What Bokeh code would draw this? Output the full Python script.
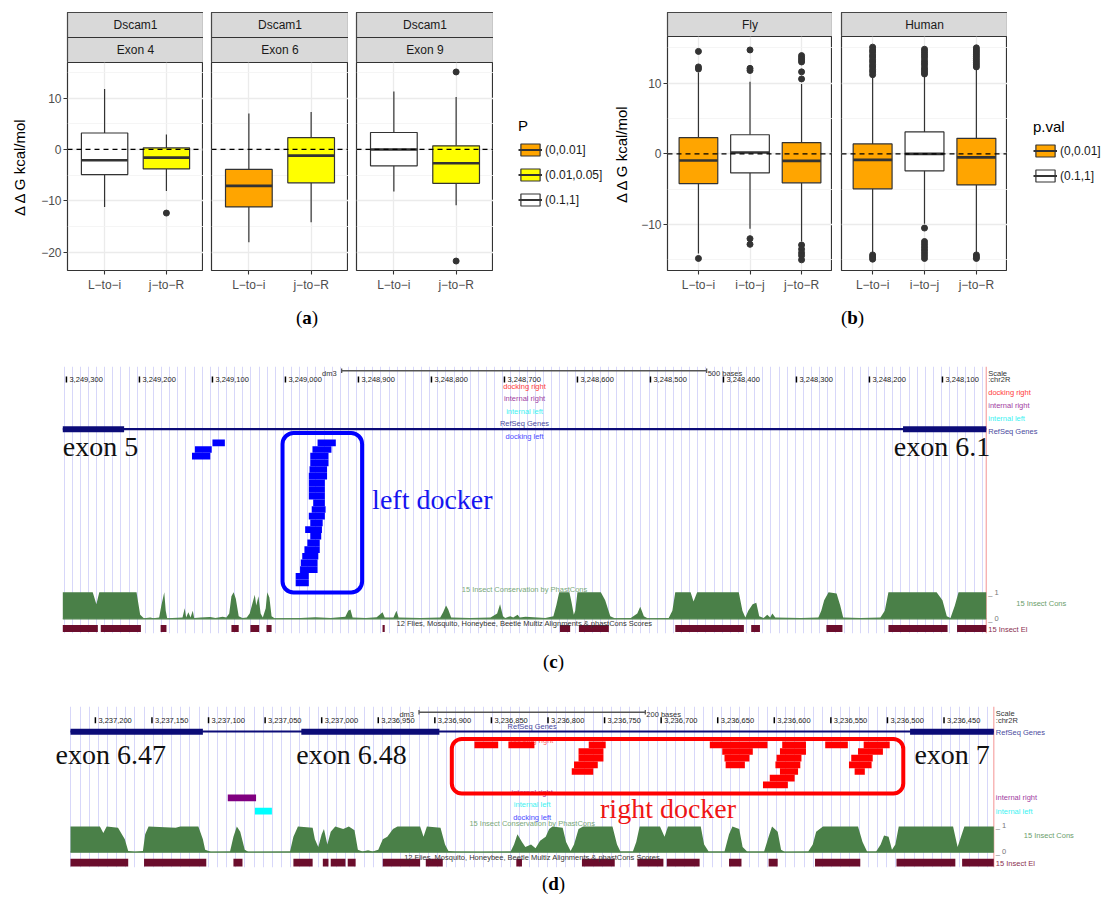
from bokeh.plotting import figure
from bokeh.models import (Range1d, FixedTicker, SingleIntervalTicker, Grid, Legend,
                          LegendItem, ColumnDataSource, Div, Span, LinearAxis, Spacer)
from bokeh.layouts import row, column
from bokeh.core.properties import value
from bokeh.embed import file_html
from bokeh.resources import INLINE

SANS = "Liberation Sans"
SERIF = "Liberation Serif"
INK = "#333333"

# ------------------------------------------------------------------ panel (a) data
a_strip_gene = ["Dscam1", "Dscam1", "Dscam1"]
a_strip_exon = ["Exon 4", "Exon 6", "Exon 9"]
a_cats = ["L−to−i", "j−to−R"]
a_lower = [[-11.2, -8.1], [-18.1, -14.2], [-8.2, -10.9]]
a_q1 = [[-4.9, -3.8], [-11.2, -6.5], [-3.2, -6.6]]
a_med = [[-2.1, -1.6], [-7.1, -1.2], [0.0, -2.7]]
a_q3 = [[3.2, 0.3], [-3.9, 2.3], [3.3, 0.7]]
a_upper = [[11.8, 2.9], [7.0, 7.3], [11.3, 10.2]]
a_pval = [["(0.1,1]", "(0.01,0.05]"], ["(0,0.01]", "(0.01,0.05]"], ["(0.1,1]", "(0.01,0.05]"]]
a_outliers = [[[], [-12.4]], [[], []], [[], [15.1, -21.75]]]
a_yticks = [-20, -10, 0, 10]
a_yminor = [-15, -5, 5, 15]
a_ytick_labels = ["−20", "−10", "0", "10"]
a_legend_title = "P"
a_levels = ["(0,0.01]", "(0.01,0.05]", "(0.1,1]"]

# ------------------------------------------------------------------ panel (b) data
b_strip = ["Fly", "Human"]
b_cats = ["L−to−i", "i−to−j", "j−to−R"]
b_lower = [[-14.1, -10.6, -12.4], [-14.1, -9.9, -14.1]]
b_q1 = [[-4.2, -2.7, -4.1], [-4.95, -2.4, -4.4]]
b_med = [[-0.95, 0.2, -1.0], [-0.85, 0.0, -0.5]]
b_q3 = [[2.3, 2.7, 1.6], [1.4, 3.1, 2.2]]
b_upper = [[11.5, 10.2, 9.9], [10.8, 11.1, 12.0]]
b_pval = [["(0,0.01]", "(0.1,1]", "(0,0.01]"], ["(0,0.01]", "(0.1,1]", "(0,0.01]"]]
b_outliers = [
    [[14.5, 12.3, 12.0, -14.8],
     [14.7, 12.1, 11.8, -12.0, -12.8],
     [13.9, 13.6, 13.3, 13.0, 11.6, 10.6, -12.9, -13.5, -14.0, -14.4, -15.0]],
    [[15.1, 14.7, 14.4, 14.0, 13.7, 13.3, 13.0, 12.6, 12.3, 11.9, 11.6, 11.2, -14.3, -14.6, -14.9],
     [14.8, 14.5, 14.2, 13.9, 13.6, 13.2, 12.9, 12.6, 12.2, 11.9, 11.6, 11.3,
      -10.5, -12.4, -12.8, -13.2, -13.6, -14.0, -14.4, -14.8],
     [15.0, 14.7, 14.4, 14.1, 13.8, 13.5, 13.2, 12.9, 12.6, 12.3, -14.3, -14.6, -14.8]],
]
b_yticks = [-10, 0, 10]
b_yminor = [-15, -5, 5, 15]
b_ytick_labels = ["−10", "0", "10"]
b_legend_title = "p.val"
b_levels = ["(0,0.01]", "(0.1,1]"]

pval_colors = {"(0,0.01]": "#FFA500", "(0.01,0.05]": "#FFFF00", "(0.1,1]": "#FFFFFF"}
y_title = "Δ Δ G kcal/mol"

# ------------------------------------------------------------------ panel (c) data (dm3 chr2R)
c_window = (3249305, 3248040)
c_ruler = [3249300, 3249200, 3249100, 3249000, 3248900, 3248800, 3248700,
           3248600, 3248500, 3248400, 3248300, 3248200, 3248100]
c_scale = (3248923, 3248423)
c_scale_label = "500 bases"
c_exon_start = [3249221, 3248040]
c_exon_end = [3249305, 3248154]
c_exon_names = ["exon 5", "exon 6.1"]
c_dl_start = [3249083, 3249101, 3249103,
              3248931, 3248937, 3248941, 3248941, 3248943, 3248943, 3248946, 3248946, 3248946,
              3248946, 3248945, 3248946, 3248949, 3248950, 3248951, 3248953, 3248953, 3248955,
              3248956, 3248956, 3248968, 3248968]
c_dl_end = [3249100, 3249124, 3249128,
            3248956, 3248963, 3248966, 3248966, 3248967, 3248968, 3248968, 3248968, 3248968,
            3248962, 3248964, 3248968, 3248966, 3248973, 3248966, 3248970, 3248974, 3248977,
            3248979, 3248980, 3248986, 3248986]
c_dl_row = [0, 1, 2,
            0, 1, 2, 3, 4, 5, 6, 7, 8, 9, 10, 11, 12, 13, 14, 15, 16, 17, 18, 19, 20, 21]
c_cons_off = [0, 41, 46, 50, 101, 106, 111, 120, 124, 132,
              135, 139, 141, 143, 164, 167, 169, 172, 175, 178,
              180, 189, 202, 209, 219, 224, 228, 231, 234, 237,
              241, 246, 252, 256, 260, 263, 265, 268, 271, 274,
              278, 280, 283, 286, 290, 326, 346, 367, 387, 391,
              394, 397, 415, 430, 438, 441, 453, 457, 460, 490,
              517, 521, 525, 528, 532, 558, 586, 595, 599, 603,
              606, 613, 617, 623, 626, 634, 661, 672, 676, 680,
              694, 697, 700, 702, 705, 737, 743, 750, 756, 778,
              787, 791, 796, 801, 830, 835, 839, 860, 864, 869,
              926, 931, 935, 939, 945, 950, 954, 960, 965, 969,
              972, 976, 1011, 1035, 1039, 1043, 1049, 1060, 1065, 1069,
              1093, 1120, 1126, 1131, 1197, 1205, 1211, 1216, 1222, 1227,
              1265]
c_cons_val = [1.0, 1.0, 0.55, 1.0, 1.0, 0.15, 0.02, 0.05, 0.02, 0.05,
              0.5, 1.0, 0.3, 0.02, 0.05, 0.4, 0.05, 0.25, 0.05, 0.3,
              0.03, 0.05, 0.07, 0.03, 0.08, 0.05, 0.2, 0.85, 1.0, 0.75,
              0.1, 0.03, 0.05, 0.2, 0.6, 0.9, 0.5, 0.85, 0.2, 0.05,
              0.4, 1.0, 0.8, 0.1, 0.02, 0.03, 0.06, 0.03, 0.08, 0.3,
              0.35, 0.05, 0.03, 0.06, 0.25, 0.05, 0.05, 0.3, 0.05, 0.03,
              0.05, 0.25, 0.5, 0.35, 0.05, 0.03, 0.05, 0.2, 0.55, 0.1,
              0.03, 0.1, 0.05, 0.15, 0.05, 0.08, 0.03, 0.1, 0.5, 1.0,
              1.0, 0.6, 0.15, 0.3, 1.0, 1.0, 0.7, 0.1, 0.02, 0.03,
              0.2, 0.45, 0.1, 0.02, 0.03, 0.3, 1.0, 1.0, 0.65, 1.0,
              1.0, 0.3, 0.05, 0.3, 0.55, 0.6, 0.1, 0.03, 0.15, 0.05,
              0.2, 0.05, 0.03, 0.05, 0.3, 0.7, 1.0, 0.95, 0.5, 0.05,
              0.03, 0.05, 0.3, 1.0, 1.0, 0.7, 0.1, 0.03, 0.5, 1.0,
              1.0]
c_el_start = [3249257, 3249198, 3249163, 3249064, 3249036, 3249019, 3248864,
              3248610, 3248557, 3248372, 3248350, 3248237, 3248093, 3248040]
c_el_end = [3249305, 3249253, 3249171, 3249074, 3249048, 3249026, 3248867,
            3248624, 3248598, 3248466, 3248362, 3248259, 3248174, 3248080]
c_box = (3249004, 3248895)
c_box_label = "left docker"

# ------------------------------------------------------------------ panel (d) data (dm3 chr2R)
d_window = (3237222, 3236406)
d_ruler = [3237200, 3237150, 3237100, 3237050, 3237000, 3236950, 3236900, 3236850,
           3236800, 3236750, 3236700, 3236650, 3236600, 3236550, 3236500, 3236450]
d_scale = (3236914, 3236714)
d_scale_label = "200 bases"
d_exon_start = [3237105, 3236896, 3236406]
d_exon_end = [3237222, 3237018, 3236480]
d_exon_names = ["exon 6.47", "exon 6.48", "exon 7"]
d_dr_start = [3236844, 3236812,
              3236749, 3236751, 3236751, 3236756, 3236760,
              3236606, 3236619, 3236622, 3236626,
              3236572, 3236572, 3236576, 3236577, 3236579, 3236582, 3236588,
              3236535, 3236498, 3236504, 3236513, 3236514, 3236520]
d_dr_end = [3236865, 3236835,
            3236764, 3236773, 3236773, 3236777, 3236779,
            3236657, 3236646, 3236644, 3236643,
            3236593, 3236595, 3236598, 3236599, 3236595, 3236604, 3236610,
            3236555, 3236521, 3236526, 3236532, 3236534, 3236529]
d_dr_row = [0, 0,
            0, 1, 2, 3, 4,
            0, 1, 2, 3,
            0, 1, 2, 3, 4, 5, 6,
            0, 0, 1, 2, 3, 4]
d_int_right = (3237058, 3237083)
d_int_left = (3237044, 3237059)
d_cons_pos = [3237222, 3237196, 3237193, 3237190, 3237180, 3237174, 3237171, 3237165, 3237158, 3237156,
              3237153, 3237129, 3237125, 3237109, 3237105, 3237103, 3237098, 3237081, 3237078, 3237075,
              3237072, 3237068, 3237065, 3237028, 3237025, 3237021, 3237008, 3237006, 3237003, 3237000,
              3236998, 3236995, 3236992, 3236988, 3236981, 3236976, 3236971, 3236968, 3236964, 3236959,
              3236955, 3236950, 3236946, 3236942, 3236937, 3236933, 3236913, 3236910, 3236907, 3236895,
              3236891, 3236888, 3236882, 3236860, 3236833, 3236830, 3236827, 3236823, 3236820, 3236815,
              3236811, 3236807, 3236802, 3236799, 3236796, 3236787, 3236784, 3236780, 3236777, 3236773,
              3236769, 3236743, 3236739, 3236736, 3236725, 3236722, 3236719, 3236701, 3236697, 3236694,
              3236665, 3236662, 3236658, 3236644, 3236640, 3236637, 3236631, 3236628, 3236624, 3236609,
              3236605, 3236602, 3236597, 3236594, 3236591, 3236570, 3236566, 3236563, 3236557, 3236526,
              3236522, 3236518, 3236510, 3236506, 3236503, 3236499, 3236496, 3236493, 3236490, 3236442,
              3236438, 3236435, 3236432, 3236406]
d_cons_val = [1.0, 1.0, 0.75, 1.0, 0.95, 0.5, 0.05, 0.02, 0.05, 0.7,
              1.0, 0.95, 1.0, 1.0, 0.5, 0.1, 0.02, 0.03, 0.6, 1.0,
              0.8, 0.1, 0.02, 0.03, 0.6, 1.0, 0.95, 0.5, 0.2, 0.7,
              0.9, 0.3, 0.8, 1.0, 0.9, 1.0, 0.85, 0.1, 0.03, 0.08,
              0.03, 0.1, 0.5, 0.6, 0.9, 1.0, 1.0, 0.6, 1.0, 0.95,
              0.3, 0.05, 0.03, 0.02, 0.03, 0.3, 0.7, 0.4, 0.2, 0.3,
              0.15, 0.45, 0.6, 0.9, 1.0, 0.95, 0.4, 0.05, 0.3, 0.9,
              1.0, 1.0, 0.3, 0.03, 0.03, 0.4, 1.0, 1.0, 0.6, 1.0,
              1.0, 0.3, 0.03, 0.03, 0.7, 1.0, 0.9, 0.2, 0.03, 0.03,
              0.6, 1.0, 0.8, 0.1, 0.02, 0.03, 0.3, 0.8, 1.0, 1.0,
              0.4, 0.03, 0.03, 0.3, 0.65, 0.6, 0.1, 0.3, 1.0, 1.0,
              0.2, 0.6, 1.0, 1.0]
d_el_start = [3237171, 3237102, 3237070, 3237008, 3236994, 3236979, 3236970, 3236913, 3236893,
              3236823, 3236741, 3236698, 3236666, 3236629, 3236597, 3236524, 3236440, 3236406]
d_el_end = [3237222, 3237157, 3237078, 3237025, 3236999, 3236992, 3236977, 3236946, 3236908,
            3236828, 3236770, 3236721, 3236695, 3236640, 3236605, 3236564, 3236492, 3236434]
d_box = (3236885, 3236486)
d_box_label = "right docker"

# ------------------------------------------------------------------ colours
GUIDE = "#D7D7F9"
GENE = "#0C0C78"
CONS = "#4A8048"
ELEM = "#6B0D2C"
EDGE = "#F6A5A5"


def fig(**kw):
    base = dict(output_backend="svg", toolbar_location=None, min_border=0,
                x_axis_type=None, y_axis_type=None)
    base.update(kw)
    return figure(**base)


def style_axis(ax):
    ax.axis_line_color = None
    ax.major_tick_line_color = INK
    ax.major_tick_line_width = 1.1
    ax.major_tick_out = 4
    ax.major_tick_in = 0
    ax.minor_tick_line_color = None
    ax.major_label_text_font = SANS
    ax.major_label_text_font_size = "12px"
    ax.major_label_text_color = "#4D4D4D"
    ax.major_label_standoff = 3
    ax.axis_label_text_font = SANS
    ax.axis_label_text_font_size = "15px"
    ax.axis_label_text_font_style = "normal"
    ax.axis_label_text_color = "black"


def data_limits(lower_sets, upper_sets, outlier_sets):
    vals = []
    for lo, hi, ol in zip(lower_sets, upper_sets, outlier_sets):
        vals += lo + hi
        for o in ol:
            vals += o
    lo, hi = min(vals), max(vals)
    pad = (hi - lo) * 0.05
    return lo - pad, hi + pad


def strip_fig(labels, left, frame_w, top_pad, band_h):
    n = len(labels)
    p = fig(width=left + frame_w, height=top_pad + n * band_h,
            x_range=Range1d(0, 1), y_range=Range1d(0, n),
            min_border_left=left, min_border_right=0, min_border_top=top_pad, min_border_bottom=0)
    p.outline_line_color = INK
    p.outline_line_width = 1.2
    lv = list(range(n))[::-1]
    p.quad(left=0, right=1, bottom=lv, top=[v + 1 for v in lv], fill_color="#D9D9D9",
           line_color=INK, line_width=1.2)
    p.text(x=[0.5] * n, y=[v + 0.5 for v in lv], text=labels, text_align="center",
           text_baseline="middle", text_font=value(SANS), text_font_size="12px",
           text_color="#1A1A1A")
    return p


def panel_fig(cats, lo, q1, md, q3, hi, pv, outl, ylim, yticks, yminor, ylabels,
              left, frame_w, height, frame_h, with_y, y_standoff=9):
    n = len(cats)
    xs = list(range(1, n + 1))
    p = fig(width=left + frame_w, height=height, x_range=Range1d(0.4, n + 0.6),
            y_range=Range1d(*ylim), min_border_left=left, min_border_right=0,
            min_border_top=0, min_border_bottom=height - frame_h)
    p.outline_line_color = INK
    p.outline_line_width = 1.2
    p.add_layout(Grid(dimension=0, ticker=FixedTicker(ticks=xs),
                      grid_line_color="#EBEBEB", grid_line_width=1.3))
    p.add_layout(Grid(dimension=1, ticker=FixedTicker(ticks=yticks, minor_ticks=yminor),
                      grid_line_color="#EBEBEB", grid_line_width=1.3,
                      minor_grid_line_color="#F3F3F3", minor_grid_line_width=0.8))
    src = ColumnDataSource(dict(x=xs, lo=lo, q1=q1, md=md, q3=q3, hi=hi,
                                xl=[x - 0.375 for x in xs], xr=[x + 0.375 for x in xs],
                                fill=[pval_colors[v] for v in pv]))
    p.segment(x0="x", y0="q3", x1="x", y1="hi", source=src, line_color=INK, line_width=1.2)
    p.segment(x0="x", y0="q1", x1="x", y1="lo", source=src, line_color=INK, line_width=1.2)
    p.vbar(x="x", width=0.75, bottom="q1", top="q3", fill_color="fill", line_color=INK,
           line_width=1.2, source=src)
    p.segment(x0="xl", y0="md", x1="xr", y1="md", source=src, line_color=INK, line_width=2.6)
    ox = [x for x, o in zip(xs, outl) for _ in o]
    oy = [v for o in outl for v in o]
    if ox:
        p.scatter(ox, oy, size=6, fill_color=INK, line_color=INK)
    p.add_layout(Span(location=0, dimension="width", line_color="black",
                      line_dash="5 4", line_width=1.3))
    xa = LinearAxis(ticker=FixedTicker(ticks=xs),
                    major_label_overrides={x: c for x, c in zip(xs, cats)})
    style_axis(xa)
    p.add_layout(xa, "below")
    if with_y:
        ya = LinearAxis(ticker=FixedTicker(ticks=yticks),
                        major_label_overrides={t: l for t, l in zip(yticks, ylabels)},
                        axis_label=y_title)
        style_axis(ya)
        ya.major_label_standoff = 2
        ya.axis_label_standoff = y_standoff
        p.add_layout(ya, "left")
    return p


def legend_fig(width, height, top_b, title, levels, margin):
    p = fig(width=width, height=height, x_range=Range1d(0, 1), y_range=Range1d(0, 1),
            min_border_top=top_b)
    p.outline_line_color = None
    items = []
    for lev in levels:
        # legend proxies, placed far outside the visible range: only their keys show
        r1 = p.vbar(x=[-50], top=[-50], bottom=[-51], width=0.5, fill_color=pval_colors[lev],
                    line_color=INK, line_width=1.2)
        r2 = p.segment(x0=[-50], y0=[-50.5], x1=[-49.5], y1=[-50.5], line_color=INK, line_width=2.0)
        items.append(LegendItem(label=lev, renderers=[r1, r2]))
    leg = Legend(items=items, location="top_left", margin=margin, padding=0, spacing=10,
                 glyph_width=24, glyph_height=15, label_height=15, label_width=10,
                 label_standoff=3, title=title, title_standoff=8,
                 label_text_font=SANS, label_text_font_size="12px", label_text_color="#1A1A1A",
                 title_text_font=SANS, title_text_font_size="15px", title_text_font_style="normal",
                 title_text_color="black", border_line_color=None, background_fill_alpha=0)
    p.add_layout(leg)
    return p


def genome_fig(win, ppb, img_left, H, top_b, bot_b, guide_step, rows_top, row_h, cons_top, cons_base):
    FL, FR = 40, 1085
    x0 = win[0] + (img_left - FL) / ppb
    x1 = x0 - (FR - FL) / ppb
    p = fig(width=1091, height=top_b + H + bot_b, x_range=Range1d(x0, x1), y_range=Range1d(H, 0),
            min_border_left=FL - 8, min_border_right=8 + 1091 - FR,
            min_border_top=top_b, min_border_bottom=bot_b)
    p.outline_line_color = None
    unit = cons_base - cons_top
    p.extra_y_ranges = {"rows": Range1d((H - rows_top) / row_h, -rows_top / row_h),
                        "cons": Range1d((cons_base - H) / unit, cons_base / unit)}
    p.add_layout(Grid(dimension=0, ticker=SingleIntervalTicker(interval=guide_step),
                      bounds=(win[1], win[0]), grid_line_color=GUIDE, grid_line_width=1))
    p.segment(x0=[win[1]], y0=[0], x1=[win[1]], y1=[H], line_color=EDGE, line_width=1.2)
    return p


def small_text(p, x, y, text, color, align="center", x_offset=0):
    n = len(text)
    p.text(x=x if isinstance(x, list) else [x] * n, y=y, text=text, text_color=color,
           x_offset=x_offset, text_align=align, text_baseline="middle",
           text_font=value(SANS), text_font_size="7.5px")


def ruler(p, ticks, tick_y0, tick_y1, scale, scale_label, bar_y):
    n = len(ticks)
    p.segment(x0=ticks, x1=ticks, y0=[tick_y0] * n, y1=[tick_y1] * n, line_color="black",
              line_width=1.5)
    small_text(p, ticks, [(tick_y0 + tick_y1) / 2] * n, [f"{t:,}" for t in ticks], "#222222",
               align="left", x_offset=3)
    p.segment(x0=[scale[0]], x1=[scale[1]], y0=[bar_y], y1=[bar_y], line_color="#555555",
              line_width=1.5)
    p.segment(x0=list(scale), x1=list(scale), y0=[bar_y - 2.3] * 2, y1=[bar_y + 2.3] * 2,
              line_color="#555555", line_width=1.3)
    small_text(p, [scale[0]], [bar_y + 2.3], ["dm3"], "#333333", align="right", x_offset=-5)
    small_text(p, [scale[1]], [bar_y + 2.3], [scale_label], "#333333", align="left", x_offset=1)


def big_text(p, x, y, text, color, align="left", x_offset=0):
    p.text(x=[x], y=[y], text=[text], text_color=color, text_align=align,
           text_baseline="alphabetic", x_offset=x_offset, text_font=value(SERIF),
           text_font_size="28px")


# ================================================================== (a)
a_ylim = data_limits([sum(a_lower, [])], [sum(a_upper, [])], [sum(a_outliers, [])])
a_left = [57, 8, 8]
a_fw = [138, 137, 137]
a_cols = []
for i in range(3):
    s = strip_fig([a_strip_gene[i], a_strip_exon[i]], a_left[i], a_fw[i], 4, 25)
    pnl = panel_fig(a_cats, a_lower[i], a_q1[i], a_med[i], a_q3[i], a_upper[i], a_pval[i],
                    a_outliers[i], a_ylim, a_yticks, a_yminor, a_ytick_labels,
                    a_left[i], a_fw[i], 238, 208, i == 0, y_standoff=10)
    a_cols.append(column(s, pnl))
leg_a = legend_fig(117, 292, 83, a_legend_title, a_levels, 25)

# ================================================================== (b)
b_ylim = data_limits([sum(b_lower, [])], [sum(b_upper, [])], [sum(b_outliers, [])])
b_left = [55, 9]
b_fw = [167, 166]
b_cols = []
for i in range(2):
    s = strip_fig([b_strip[i]], b_left[i], b_fw[i], 4, 24)
    pnl = panel_fig(b_cats, b_lower[i], b_q1[i], b_med[i], b_q3[i], b_upper[i], b_pval[i],
                    b_outliers[i], b_ylim, b_yticks, b_yminor, b_ytick_labels,
                    b_left[i], b_fw[i], 264, 234, i == 0, y_standoff=8)
    b_cols.append(column(s, pnl))
leg_b = legend_fig(99, 292, 84, b_legend_title, b_levels, 26)

top_row = row(*a_cols, leg_a, *b_cols, leg_b)


def caption(letter, width, height, lh):
    return Div(text=f"(<b>{letter}</b>)", width=width, height=height, margin=0,
               styles={"text-align": "center", "font-family": "'Liberation Serif', serif",
                       "font-size": "19px", "line-height": f"{lh}px", "color": "black"})


cap_ab = row(caption("a", 598, 40, 36), caption("b", 493, 40, 36))

# ================================================================== (c)
pc = genome_fig(c_window, 0.73, 62.3, 267, 26, 12, 11.13, 73, 6.67, 225.7, 252.3)
c_mid = (c_window[0] + c_window[1]) / 2
ruler(pc, c_ruler, 10, 16, c_scale, c_scale_label, 4.3)
small_text(pc, c_mid, [20, 32.3, 45.3, 57.3, 70.3],
           ["docking right", "internal right", "internal left", "RefSeq Genes", "docking left"],
           ["#FF3B3B", "#A23DA2", "#3DF2F2", "#4B4B9E", "#4B4BFF"])
small_text(pc, c_window[1], [6.5, 13, 26.3, 39, 51.7, 64.7, 225.7, 237, 252, 263.3],
           ["Scale", ":chr2R", "docking right", "internal right", "internal left", "RefSeq Genes",
            "_ 1", "15 Insect Cons", "_ 0", "15 Insect El"],
           ["#333333", "#333333", "#FF3B3B", "#A23DA2", "#3DF2F2", "#4B4B9E",
            "#777777", "#6B9E6B", "#777777", "#8A3050"],
           align="left", x_offset=[2, 2, 2, 2, 2, 2, 2, 30, 2, 2])
small_text(pc, c_mid, [223.3], ["15 Insect Conservation by PhastCons"], "#7AA87A")
pc.segment(x0=[c_window[0]], x1=[c_window[1]], y0=[62.7], y1=[62.7], line_color=GENE, line_width=2.2)
pc.quad(left=c_exon_end, right=c_exon_start, top=59.7, bottom=65.7, fill_color=GENE, line_color=None)
pc.quad(left=c_dl_end, right=c_dl_start, top=c_dl_row, bottom=[r + 1 for r in c_dl_row],
        fill_color="#0000FF", line_color=None, y_range_name="rows")
c_cons_pos = [c_window[0] - d for d in c_cons_off]
pc.varea(x=c_cons_pos, y1=[0] * len(c_cons_pos), y2=c_cons_val, fill_color=CONS, y_range_name="cons")
pc.segment(x0=[c_window[0]], x1=[c_window[1]], y0=[0], y1=[0], line_color=CONS, line_width=1.3,
           y_range_name="cons")
pc.quad(left=c_el_end, right=c_el_start, top=258.5, bottom=265.5, fill_color=ELEM, line_color=None)
small_text(pc, c_mid, [257], ["12 Flies, Mosquito, Honeybee, Beetle Multiz Alignments & phastCons Scores"],
           "#333333")
pc.quad(left=[c_box[0]], right=[c_box[1]], top=[66.5], bottom=[226], fill_color=None,
        line_color="#0000FF", line_width=4, border_radius=11)
big_text(pc, c_exon_end[0], 80, c_exon_names[0], "#111111", "left")
big_text(pc, c_exon_start[1], 80, c_exon_names[1], "#111111", "right", x_offset=4)
big_text(pc, c_box[1], 133, c_box_label, "#1515F0", "left", x_offset=10)

cap_c = caption("c", 1091, 35, 34)

# ================================================================== (d)
pd_ = genome_fig(d_window, 1.1315, 70, 161, 26, 3, 8.1, 35, 6.67, 120, 145.7)
d_mid = (d_window[0] + d_window[1]) / 2
ruler(pd_, d_ruler, 10.7, 16.7, d_scale, d_scale_label, 5.7)
small_text(pd_, d_mid, [20, 34, 85.7, 98, 111.3, 117.3],
           ["RefSeq Genes", "docking right", "internal right", "internal left", "docking left",
            "15 Insect Conservation by PhastCons"],
           ["#4B4B9E", "#FF6A6A", "#A23DA2", "#3DF2F2", "#4B4BFF", "#7AA87A"])
small_text(pd_, d_window[1], [7, 14, 26.3, 91, 104.7, 119, 129, 145, 156.7],
           ["Scale", ":chr2R", "RefSeq Genes", "internal right", "internal left",
            "_ 1", "15 Insect Cons", "_ 0", "15 Insect El"],
           ["#333333", "#333333", "#4B4B9E", "#A23DA2", "#3DF2F2",
            "#777777", "#6B9E6B", "#777777", "#8A3050"],
           align="left", x_offset=[2, 2, 2, 2, 2, 2, 30, 2, 2])
pd_.segment(x0=[d_window[0]], x1=[d_window[1]], y0=[25], y1=[25], line_color=GENE, line_width=2.2)
pd_.quad(left=d_exon_end, right=d_exon_start, top=22.3, bottom=28.3, fill_color=GENE, line_color=None)
pd_.quad(left=d_dr_end, right=d_dr_start, top=d_dr_row, bottom=[r + 1 for r in d_dr_row],
         fill_color="#FF0000", line_color=None, y_range_name="rows")
pd_.quad(left=[d_int_right[1]], right=[d_int_right[0]], top=[88], bottom=[94.7],
         fill_color="#800080", line_color=None)
pd_.quad(left=[d_int_left[1]], right=[d_int_left[0]], top=[101.3], bottom=[108],
         fill_color="#00FFFF", line_color=None)
pd_.varea(x=d_cons_pos, y1=[0] * len(d_cons_pos), y2=d_cons_val, fill_color=CONS, y_range_name="cons")
pd_.segment(x0=[d_window[0]], x1=[d_window[1]], y0=[0], y1=[0], line_color=CONS, line_width=1.3,
            y_range_name="cons")
pd_.quad(left=d_el_end, right=d_el_start, top=152.3, bottom=160, fill_color=ELEM, line_color=None)
small_text(pd_, d_mid, [150.7], ["12 Flies, Mosquito, Honeybee, Beetle Multiz Alignments & phastCons Scores"],
           "#333333")
pd_.quad(left=[d_box[0]], right=[d_box[1]], top=[32.5], bottom=[87], fill_color=None,
         line_color="#FF0000", line_width=4, border_radius=10)
big_text(pd_, d_exon_end[0], 48, d_exon_names[0], "#111111", "left", x_offset=-15)
big_text(pd_, d_exon_end[1], 48, d_exon_names[1], "#111111", "left", x_offset=-5)
big_text(pd_, d_exon_start[2], 48, d_exon_names[2], "#111111", "right", x_offset=-4)
big_text(pd_, 3236754, 102, d_box_label, "#F01515", "left")

cap_d = caption("d", 1091, 28, 28)

content = column(top_row, cap_ab, pc, cap_c, pd_, cap_d)
layout = column(Spacer(width=1099, height=8), row(Spacer(width=8, height=10), content))
open("out.html", "w").write(file_html(layout, INLINE))
